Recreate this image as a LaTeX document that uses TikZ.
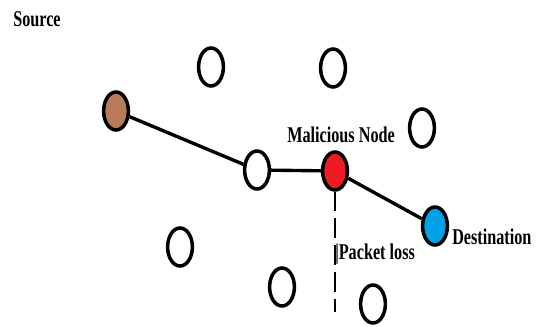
\documentclass[tikz,border=0pt]{standalone}
\usepackage{fontspec}
\usetikzlibrary{shapes.geometric}
\newfontfamily\tagfont[FakeStretch=0.72]{Liberation Serif}
\definecolor{srcbrown}{RGB}{185,122,87}
\definecolor{malred}{RGB}{237,28,36}
\definecolor{dstblue}{RGB}{0,162,232}

\tikzset{
  mote/.style={draw, ellipse, line width=2.5pt, fill=white,
    minimum width=0.62cm, minimum height=0.95cm, inner sep=0pt},
  link/.style={line width=2.4pt},
  tag/.style={anchor=base west, inner sep=0pt,
    font=\tagfont\bfseries\fontsize{16}{16}\selectfont}
}

\begin{document}
\begin{tikzpicture}[x=0.025cm, y=-0.025cm]

% Frame (pixel units)
\useasboundingbox (0,0) rectangle (539,327);

% Idle nodes
\foreach \name/\x/\y in {
topa/211/67,
topb/333/68,
east/422/128,
lowa/180/247,
lowb/282/287,
lowc/373/304
}{
\node[mote] (\name) at (\x,\y) {};
}

% Route nodes
\node[mote, fill=srcbrown] (src) at (116,111) {};
\node[mote] (hop) at (257,170) {};
\node[mote, fill=malred] (mal) at (335,171) {};
\node[mote, fill=dstblue] (dst) at (435,226) {};

% Route
\draw[link] (src) -- (hop);
\draw[link] (hop) -- (mal);
\draw[link] (mal) -- (dst);

% Dropped packets
\coordinate (drop) at (335,312);
\draw[line width=1.8pt, dash pattern=on 14pt off 5pt] (mal) -- (drop);

% Labels
\node[tag] (srctag) at (13,27) {Source};
\node[tag] (maltag) at (287,143) {Malicious Node};
\node[tag] (losstag) at (335,260) {|Packet loss};
\node[tag] (dsttag) at (452,245) {Destination};

\end{tikzpicture}
\end{document}
